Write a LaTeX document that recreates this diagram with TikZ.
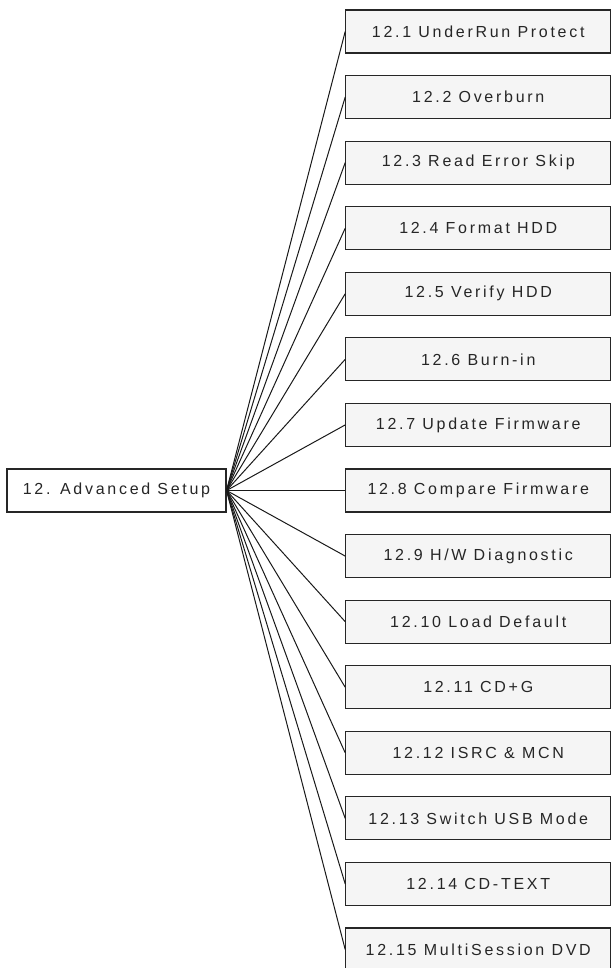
\documentclass[tikz,border=0pt]{standalone}
\usepackage{fontspec}
\setmainfont{Liberation Sans}[LetterSpace=17]
\begin{document}
\begin{tikzpicture}[x=1pt,y=1pt,
    menubox/.style={draw=black!85,line width=1.1pt,fill=black!4,minimum width=265pt,minimum height=43pt,inner sep=0pt,text=black!85,font=\fontsize{16}{19}\selectfont},
    rootbox/.style={menubox,fill=white,minimum width=219pt}]
  \useasboundingbox (0,0) rectangle (612,-968);
  \node[rootbox](adv) at (116.5,-490.5){12. Advanced Setup}
  [grow'=right,level distance=361.75pt,sibling distance=65.57pt,
   parent anchor=east,child anchor=west,
   edge from parent/.style={draw,black!90,line width=1pt}]
  child{
      node[menubox](s1){12.1 UnderRun Protect}
    }
  child{
      node[menubox](s2){12.2 Overburn}
    }
  child{
      node[menubox](s3){12.3 Read Error Skip}
    }
  child{
      node[menubox](s4){12.4 Format HDD}
    }
  child{
      node[menubox](s5){12.5 Verify HDD}
    }
  child{
      node[menubox](s6){12.6 Burn-in}
    }
  child{
      node[menubox](s7){12.7 Update Firmware}
    }
  child{
      node[menubox](s8){12.8 Compare Firmware}
    }
  child{
      node[menubox](s9){12.9 H/W Diagnostic}
    }
  child{
      node[menubox](s10){12.10 Load Default}
    }
  child{
      node[menubox](s11){12.11 CD+G}
    }
  child{
      node[menubox](s12){12.12 ISRC \& MCN}
    }
  child{
      node[menubox](s13){12.13 Switch USB Mode}
    }
  child{
      node[menubox](s14){12.14 CD-TEXT}
    }
  child{
      node[menubox](s15){12.15 MultiSession DVD}
    };
\end{tikzpicture}
\end{document}
